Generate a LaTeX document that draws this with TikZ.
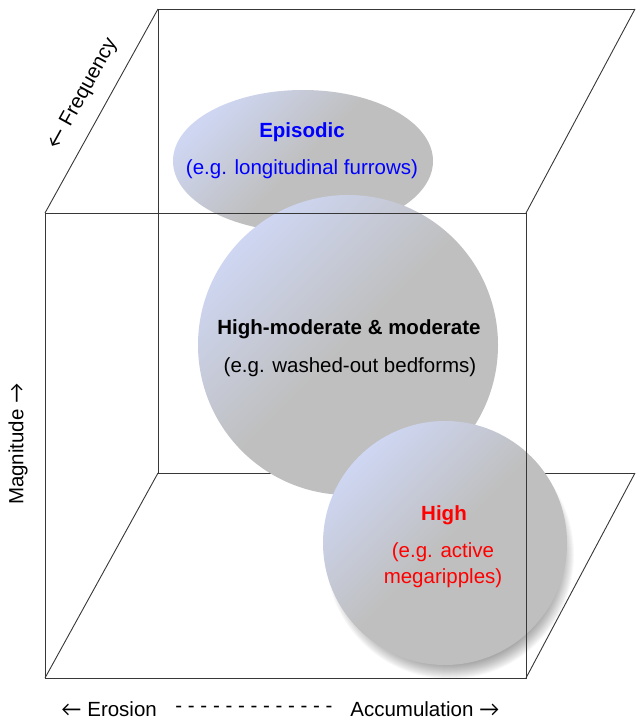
\documentclass[tikz,border=0pt]{standalone}
\usepackage{fontspec}
\setmainfont{Liberation Sans}
\newfontfamily\arrowfont{Lato}
\newcommand{\toleft}{{\arrowfont ←}}
\newcommand{\toright}{{\arrowfont →}}
\definecolor{ballblue}{RGB}{206,214,242}
\definecolor{ballgrey}{RGB}{191,191,191}
\definecolor{edgegrey}{RGB}{55,55,55}
\definecolor{episodicblue}{RGB}{0,0,255}
\definecolor{highred}{RGB}{255,0,0}

\begin{document}
\begin{tikzpicture}[x=1pt,y=-1pt,
  edge/.style={draw=edgegrey,line width=0.9pt},
  ball/.style={top color=ballblue,bottom color=ballgrey,middle color=ballgrey,shading angle=45},
  lbl/.style={inner sep=0pt,font=\fontsize{20.5}{24}\selectfont},
  heading/.style={inner sep=0pt,font=\fontsize{20.5}{24}\selectfont\bfseries}]
\useasboundingbox (0,0) rectangle (635,720);
% cube corners
\coordinate (fa) at (45,213);
\coordinate (fb) at (526,213);
\coordinate (fc) at (526,678);
\coordinate (fd) at (45,678);
\coordinate (ba) at (158,9);
\coordinate (bb) at (635,9);
\coordinate (bc) at (635,473);
\coordinate (bd) at (158,473);
\draw [edge] (bb) -- (ba) -- (bd) -- (bc);
% bubbles
\shade [ball] (303,161) ellipse [x radius=130, y radius=71];
\shade [ball] (348,345) circle [radius=150];
\foreach \r in {0,...,21}
  \fill [black,opacity=0.028] (450,555) circle [radius=103+\r];
\shade [ball] (445,543) circle [radius=122];
\node [heading,text=episodicblue] (episodic) at (302,132) {Episodic};
\node [lbl,text=episodicblue] (episodicex) at (302,169) {(e.g. longitudinal furrows)};
\node [heading] (moderate) at (349,329) {High-moderate \& moderate};
\node [lbl] (moderateex) at (350,367) {(e.g. washed-out bedforms)};
\node [heading,text=highred] (high) at (444,515) {High};
\node [lbl,text=highred] (highex) at (443,552) {(e.g. active};
\node [lbl,text=highred] (highexb) at (443,578) {megaripples)};
% front face
\draw [edge] (ba) -- (fa);
\draw [edge] (bb) -- (fb);
\draw [edge] (bc) -- (fc);
\draw [edge] (bd) -- (fd);
\draw [edge] (fa) -- (fb) -- (fc) -- (fd) -- cycle;
% axis labels
\node [lbl,rotate=61] (frequency) at (83,94) {\toleft\ Frequency};
\node [lbl,rotate=90] (magnitude) at (18,444) {Magnitude \toright};
\node [lbl] (erosion) at (109,709) {\toleft\ Erosion};
\node [lbl] (dashes) at (254,709) {- - - - - - - - - - - - -};
\node [lbl] (accumulation) at (425,709) {Accumulation \toright};
\end{tikzpicture}
\end{document}
